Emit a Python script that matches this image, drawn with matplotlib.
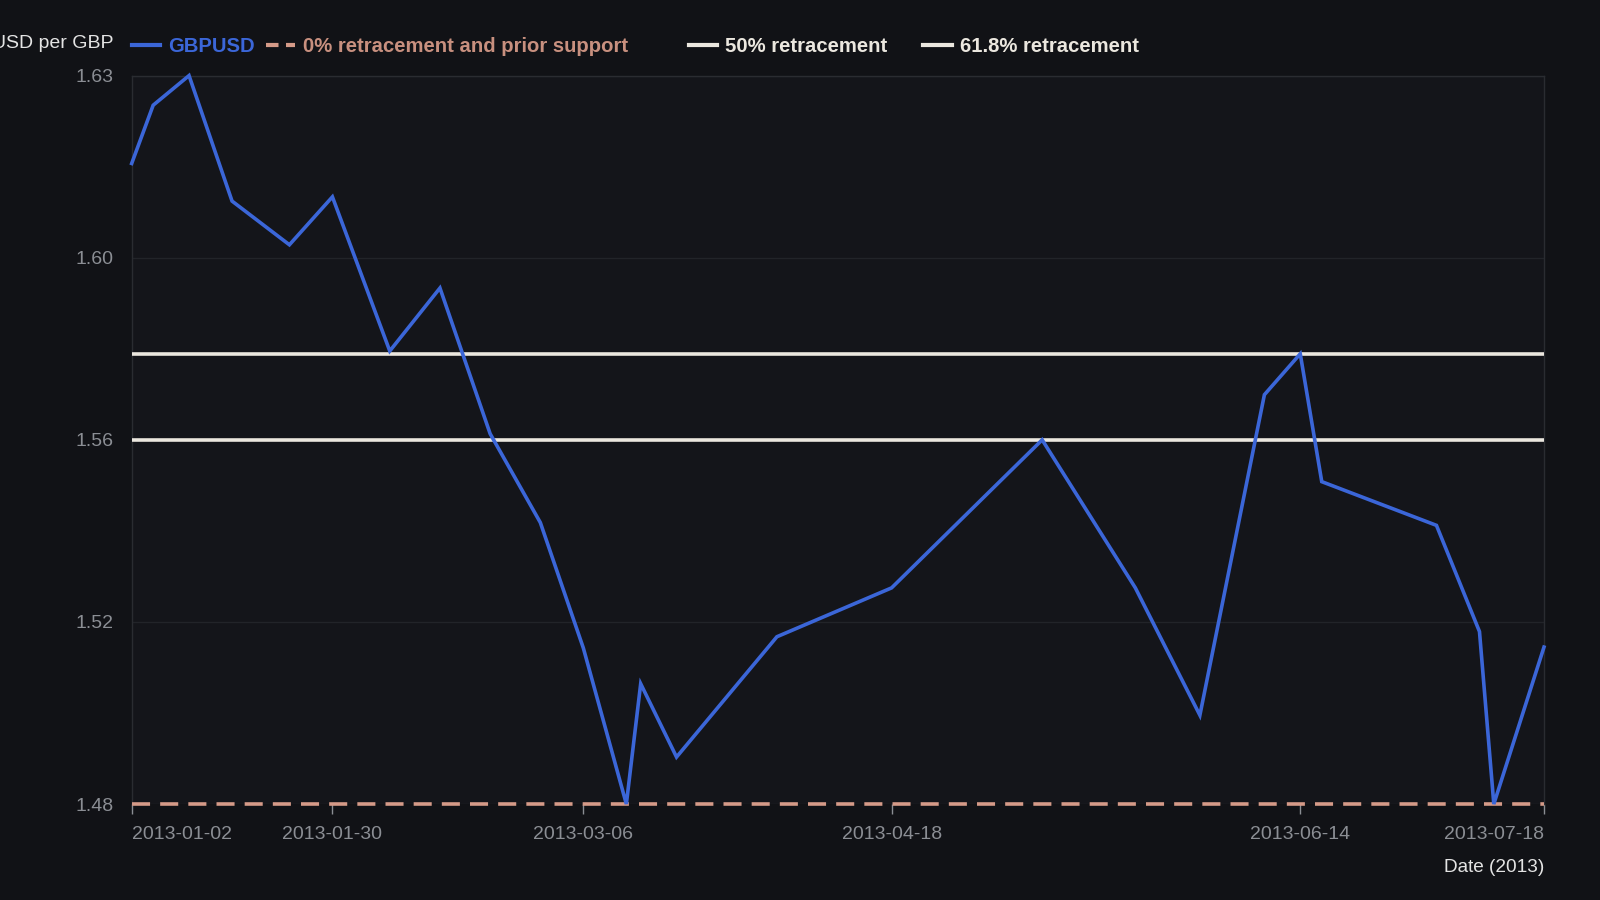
import numpy as np
import pandas as pd
import matplotlib
matplotlib.use("Agg")
import matplotlib.pyplot as plt
import matplotlib.dates as mdates
from matplotlib.lines import Line2D

# ---------------- data ----------------
dates = ['2013-01-02', '2013-01-05', '2013-01-10', '2013-01-16', '2013-01-24',
         '2013-01-30', '2013-02-07', '2013-02-14', '2013-02-21', '2013-02-28',
         '2013-03-06', '2013-03-12', '2013-03-14', '2013-03-19', '2013-04-02',
         '2013-04-18', '2013-05-09', '2013-05-22', '2013-05-31', '2013-06-09',
         '2013-06-14', '2013-06-17', '2013-07-03', '2013-07-09', '2013-07-11',
         '2013-07-18']
gbpusd = [1.6163, 1.6287, 1.6350, 1.6083, 1.5990,
          1.6092, 1.5764, 1.5898, 1.5588, 1.5399,
          1.5132, 1.4800, 1.5056, 1.4900, 1.5156,
          1.5260, 1.5575, 1.5260, 1.4989, 1.5671,
          1.5758, 1.5486, 1.5393, 1.5167, 1.4800,
          1.5134]

swing_low = 1.48
swing_high = 1.635
retr_fracs = [0.0, 0.5, 0.618]
retr_labels = ['0% retracement and prior support', '50% retracement', '61.8% retracement']

x_tick_dates = ['2013-01-02', '2013-01-30', '2013-03-06', '2013-04-18', '2013-06-14', '2013-07-18']
y_tick_labels = ['1.48', '1.52', '1.56', '1.60', '1.63']

# ---------------- style ----------------
fig_bg = '#111216'
ax_bg = '#14151a'
blue = '#3b66d8'
salmon = '#d59a88'
salmon_txt = '#c8907f'
cream = '#ebe7df'
tick_grey = '#8b8e94'
grid_col = '#222429'
frame_col = '#2a2c31'
font = 'Liberation Sans'
lw = 2.6

plt.rcParams['font.family'] = [font, 'DejaVu Sans']

fig = plt.figure(figsize=(16, 9), dpi=100, facecolor=fig_bg)
ax = fig.add_axes([0.0823, 0.1066, 0.965 - 0.0823, 0.916 - 0.1066])
ax.set_facecolor(ax_bg)

x = pd.to_datetime(dates)
levels = [swing_low + f * (swing_high - swing_low) for f in retr_fracs]

ax.axhline(levels[0], color=salmon, lw=lw, ls=(0, (5, 2.8)), zorder=5, clip_on=False)
ax.axhline(levels[1], color=cream, lw=lw, zorder=3)
ax.axhline(levels[2], color=cream, lw=lw, zorder=3)
ax.plot(x, gbpusd, color=blue, lw=lw, solid_joinstyle='miter', zorder=6, clip_on=False)

ax.set_xlim(x[0], x[-1])
ax.set_ylim(swing_low, swing_high)

yt = np.linspace(swing_low, swing_high, len(y_tick_labels))
ax.set_yticks(yt)
ax.set_yticklabels(y_tick_labels)
ax.grid(axis='y', color=grid_col, lw=1)
ax.set_axisbelow(True)

xt = pd.to_datetime(x_tick_dates)
ax.set_xticks(mdates.date2num(xt))
ax.set_xticklabels(x_tick_dates)
xl = ax.get_xticklabels()
xl[0].set_ha('left')
xl[-1].set_ha('right')

ax.tick_params(axis='y', length=0, pad=13, labelsize=14, labelcolor=tick_grey)
ax.tick_params(axis='x', length=7, width=1, color=tick_grey, pad=9,
               labelsize=14, labelcolor=tick_grey, direction='out')

for s in ['top', 'left', 'right']:
    ax.spines[s].set_color(frame_col)
    ax.spines[s].set_linewidth(1)
ax.spines['bottom'].set_visible(False)

# axis titles
fig.text(0.0708, 0.952, 'USD per GBP', ha='right', va='center',
         fontsize=14, color='#e4e4e4')
fig.text(0.965, 0.036, 'Date (2013)', ha='right', va='center',
         fontsize=13.7, color='#e4e4e4')

# legend items placed one by one
items = [
    ('GBPUSD', Line2D([], [], color=blue, lw=3), blue, 129),
    (retr_labels[0], Line2D([], [], color=salmon, lw=3, ls=(0, (3, 1.8))), salmon_txt, 261),
    (retr_labels[1], Line2D([], [], color=cream, lw=3), cream, 675),
    (retr_labels[2], Line2D([], [], color=cream, lw=3), cream, 905),
]
for label, handle, tcol, px in items:
    leg = fig.legend([handle], [label], loc='center left',
                     bbox_to_anchor=(px / 1568, 0.948), frameon=False,
                     borderpad=0, borderaxespad=0, handlelength=1.4,
                     handletextpad=0.4, prop={'family': font, 'weight': 'bold', 'size': 14.6})
    for t in leg.get_texts():
        t.set_color(tcol)

fig.savefig('out.png', dpi=100, facecolor=fig_bg)
